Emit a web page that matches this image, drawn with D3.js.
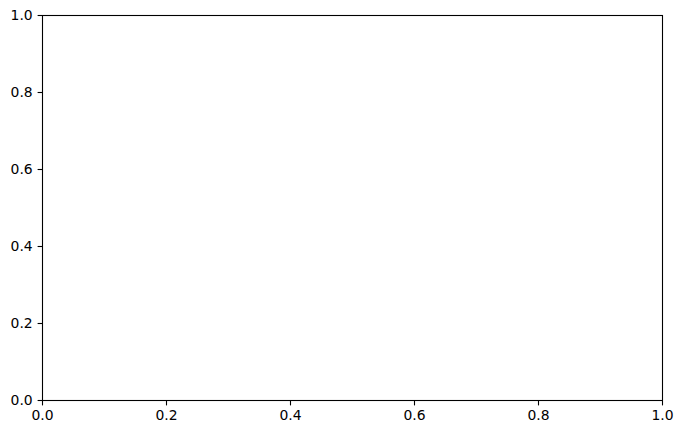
<!DOCTYPE html>
<html><head><meta charset="utf-8">
<script src="https://cdn.jsdelivr.net/npm/d3@7"></script>
<style>body{margin:0;background:#fff}svg{display:block}</style>
</head><body>
<svg id="c" width="682" height="434"></svg>
<script>
const xDomain = [0, 1];
const yDomain = [0, 1];
const xTicks = [0, 0.2, 0.4, 0.6, 0.8, 1.0];
const yTicks = [0, 0.2, 0.4, 0.6, 0.8, 1.0];

const svg = d3.select("#c");
const m = {left: 42.5, right: 19.5, top: 15.5, bottom: 33.5};
const W = 682, H = 434;
const x = d3.scaleLinear().domain(xDomain).range([m.left, W - m.right]);
const y = d3.scaleLinear().domain(yDomain).range([H - m.bottom, m.top]);
const font = "DejaVu Sans, sans-serif";

const xa = svg.append("g").attr("transform", `translate(0,${H - m.bottom})`)
  .call(d3.axisBottom(x).tickValues(xTicks).tickFormat(d3.format(".1f")).tickSize(4.9).tickPadding(4.9).offset(0));
const ya = svg.append("g").attr("transform", `translate(${m.left},0)`)
  .call(d3.axisLeft(y).tickValues(yTicks).tickFormat(d3.format(".1f")).tickSize(4.9).tickPadding(4.9).offset(0));
[xa, ya].forEach(a => {
  a.select(".domain").remove();
  a.selectAll("line").attr("stroke", "#000").attr("stroke-width", 1.1);
  a.selectAll("text").attr("font-family", font).attr("font-size", 13.9).attr("fill", "#000");
});
svg.append("rect").attr("x", x(0)).attr("y", y(1))
  .attr("width", x(1) - x(0)).attr("height", y(0) - y(1))
  .attr("fill", "none").attr("stroke", "#000").attr("stroke-width", 1.1);
</script>
</body></html>
